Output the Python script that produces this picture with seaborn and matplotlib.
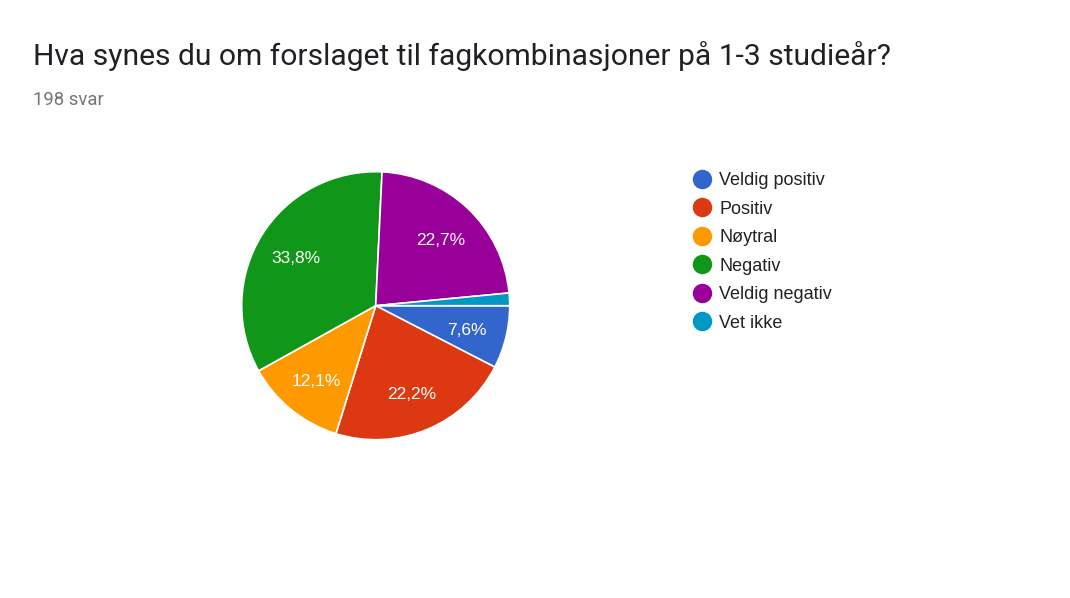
import seaborn as sns
import matplotlib
matplotlib.use("Agg")
import matplotlib.pyplot as plt
from matplotlib.lines import Line2D

# answers from the survey (198 responses)
categories = ["Veldig positiv", "Positiv", "Nøytral", "Negativ", "Veldig negativ", "Vet ikke"]
counts = [15, 44, 24, 67, 45, 3]
colors = ["#3366cc", "#dc3912", "#ff9900", "#109618", "#990099", "#0099c6"]

title = "Hva synes du om forslaget til fagkombinasjoner på 1-3 studieår?"
subtitle = "198 svar"


def pct_label(p):
    if p < 5:
        return ""
    return f"{p:.1f}%".replace(".", ",")


def main():
    sns.set_theme(style="white")
    plt.rcParams["font.family"] = ["Liberation Sans", "DejaVu Sans"]

    W, H = 1070, 598
    fig = plt.figure(figsize=(W / 100, H / 100), dpi=100)
    fig.patch.set_facecolor("white")

    # pie axes, centre ~ (376, 306) px, radius ~134 px
    cx, cy, r = 375.7, 305.7, 134
    ax = fig.add_axes([(cx - r) / W, (H - cy - r) / H, 2 * r / W, 2 * r / H])
    wedges, texts, autotexts = ax.pie(
        counts,
        colors=colors,
        startangle=0,
        counterclock=False,
        autopct=pct_label,
        pctdistance=0.7,
        wedgeprops=dict(edgecolor="white", linewidth=1.2),
        textprops=dict(color="white", fontsize=12.5,
                       family=["Liberation Sans", "DejaVu Sans"]),
    )
    for t in autotexts:
        x, y = t.get_position()
        t.set_position((x, y - 0.02))
    ax.set_xlim(-1, 1)
    ax.set_ylim(-1, 1)
    ax.axis("off")

    handles = [Line2D([], [], marker="o", linestyle="", markersize=13,
                      markerfacecolor=c, markeredgecolor=c) for c in colors]
    fig.legend(handles, categories, loc="upper left",
               bbox_to_anchor=(693 / W, 1 - 172 / H),
               frameon=False, labelcolor="#222222",
               prop=dict(family=["Liberation Sans", "DejaVu Sans"], size=13),
               handlelength=1.0, handletextpad=0.45,
               labelspacing=0.64, borderpad=0, borderaxespad=0)

    fig.text(33 / W, 1 - 65 / H, title, fontsize=21.6, color="#202124",
             family=["Roboto", "DejaVu Sans"], va="baseline", ha="left")
    fig.text(33 / W, 1 - 105 / H, subtitle, fontsize=13.3, color="#757575",
             family=["Roboto", "DejaVu Sans"], va="baseline", ha="left")

    fig.savefig("out.png", dpi=100, facecolor="white")


if __name__ == "__main__":
    main()
